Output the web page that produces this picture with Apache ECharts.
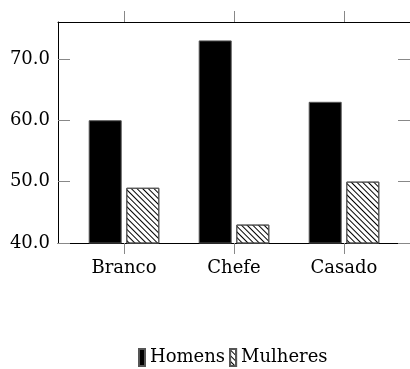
<!DOCTYPE html>
<html>
<head>
<meta charset="utf-8">
<script src="https://cdn.jsdelivr.net/npm/echarts@6/dist/echarts.min.js"></script>
<style>
  html, body { margin: 0; padding: 0; background: #fff; }
  #chart { width: 410px; height: 369px; }
</style>
</head>
<body>
<div id="chart"></div>
<script>
// Categories and values
const categories = ['Branco', 'Chefe', 'Casado'];
const homens = [60, 73, 63];
const mulheres = [49, 43, 50];
const yTicks = [40, 50, 60, 70];

const FONT = "'DejaVu Serif', serif";
const TICK_GRAY = '#888';

const chart = echarts.init(document.getElementById('chart'), null, { renderer: 'canvas' });

const toPoints = arr => arr.map((v, i) => [i, v]);

// diagonal "\" hatching for the second series
const hatch = {
  symbol: 'rect',
  symbolSize: 1,
  dashArrayX: [1, 0],
  dashArrayY: [1, 3],
  rotation: Math.PI / 4,
  color: '#000'
};

const xBase = {
  type: 'value',
  min: -0.6,
  max: categories.length - 1 + 0.6,
  splitLine: { show: false },
  axisLine: { show: true, onZero: false, lineStyle: { color: '#000', width: 1 } },
  axisTick: {
    show: true, inside: false, length: 11,
    customValues: categories.map((c, i) => i),
    lineStyle: { color: TICK_GRAY, width: 1 }
  }
};

const yBase = {
  type: 'value',
  min: 40,
  max: 76,
  interval: 10,
  splitLine: { show: false },
  axisLine: { show: true, onZero: false, lineStyle: { color: '#000', width: 1 } },
  axisTick: {
    show: true, inside: true, length: 12,
    customValues: yTicks,
    lineStyle: { color: TICK_GRAY, width: 1 }
  }
};

chart.setOption({
  animation: false,
  backgroundColor: '#fff',
  textStyle: { fontFamily: FONT },
  grid: { left: 58, top: 22, right: -6, bottom: 126, containLabel: false },
  xAxis: [
    Object.assign({}, xBase, {
      position: 'bottom',
      axisLabel: {
        show: true, margin: 16, color: '#000', fontFamily: FONT, fontSize: 18,
        customValues: categories.map((c, i) => i),
        formatter: v => categories[Math.round(v)] || ''
      }
    }),
    Object.assign({}, xBase, {
      position: 'top',
      axisLabel: { show: false }
    })
  ],
  yAxis: [
    Object.assign({}, yBase, {
      position: 'left',
      axisLabel: {
        show: true, margin: 8, color: '#000', fontFamily: FONT, fontSize: 18,
        customValues: yTicks,
        formatter: v => v.toFixed(1)
      }
    }),
    Object.assign({}, yBase, {
      position: 'right',
      axisLabel: { show: false }
    })
  ],
  legend: {
    left: 138,
    top: 348,
    padding: 0,
    itemWidth: 6,
    itemHeight: 17,
    itemGap: 4,
    icon: 'rect',
    textStyle: { fontFamily: FONT, fontSize: 18, color: '#000' },
    data: ['Homens', 'Mulheres']
  },
  series: [
    {
      name: 'Homens',
      type: 'bar',
      xAxisIndex: 0,
      yAxisIndex: 0,
      barWidth: 33,
      barGap: '14%',
      data: toPoints(homens),
      itemStyle: { color: '#000', borderColor: '#555', borderWidth: 1 }
    },
    {
      name: 'Mulheres',
      type: 'bar',
      xAxisIndex: 0,
      yAxisIndex: 0,
      barWidth: 33,
      barGap: '14%',
      data: toPoints(mulheres),
      itemStyle: { color: '#fff', borderColor: '#555', borderWidth: 1, decal: hatch }
    }
  ]
});
</script>
</body>
</html>
